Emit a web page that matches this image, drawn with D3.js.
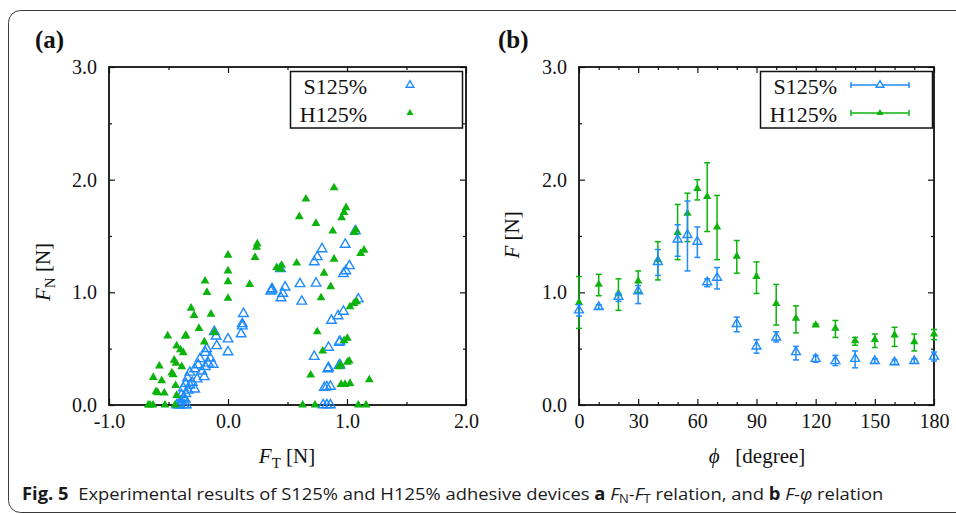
<!DOCTYPE html>
<html>
<head>
<meta charset="utf-8">
<script src="https://cdn.jsdelivr.net/npm/d3@7"></script>
<style>
  html, body { margin: 0; padding: 0; background: #fff; }
  svg { display: block; }
  text { white-space: pre; }
</style>
</head>
<body>
<div id="fig"></div>
<script>
// ---- panel (a): F_N vs F_T scatter ----
const sFt = [0.13, 0.12, 0.12, 0.11, -0.115, -0.10, 0.0, 0.0, -0.095, -0.18, -0.19, -0.15, -0.235, -0.165, -0.125,
  -0.19, -0.25, -0.28, -0.32, -0.20, -0.26, -0.34, -0.355, -0.32, -0.375, -0.335, -0.355, -0.39, -0.37, -0.40,
  -0.43, -0.40, -0.37, -0.35, -0.41, -0.30, -0.28, -0.36, -0.22,
  0.367, 0.36, 0.37, 0.44, 0.48, 0.46, 0.445, 0.62, 0.605, 0.74,
  1.07, 0.985, 0.79, 0.75, 0.725, 1.02, 0.99, 0.97, 1.095, 0.97, 0.925, 0.87, 0.94, 0.935, 0.845, 0.725,
  0.94, 0.935, 0.845, 0.84, 0.86, 0.83, 0.81, 0.80, 0.83, 0.86];
const sFn = [0.81, 0.72, 0.70, 0.63, 0.65, 0.61, 0.585, 0.47, 0.525, 0.50, 0.465, 0.415, 0.41, 0.37, 0.36,
  0.34, 0.355, 0.32, 0.29, 0.25, 0.23, 0.24, 0.19, 0.175, 0.15, 0.13, 0.10, 0.09, 0.06, 0.03,
  0.0, 0.0, 0.0, 0.0, 0.0, 0.20, 0.14, 0.05, 0.30,
  1.02, 1.01, 1.03, 1.21, 1.045, 0.99, 0.95, 0.92, 1.075, 1.08,
  1.545, 1.425, 1.385, 1.315, 1.27, 1.235, 1.19, 1.165, 0.94, 0.83, 0.79, 0.75, 0.565, 0.555, 0.51, 0.43,
  0.355, 0.35, 0.33, 0.32, 0.165, 0.16, 0.155, 0.0, 0.0, 0.0];

const hFt = [0.0, 0.246, 0.24, 0.227, 0.0, 0.0, -0.193, -0.177, 0.182, 0.0, -0.31, -0.285, -0.143, -0.244, -0.354,
  -0.36, -0.507, -0.115, -0.199, -0.431, -0.40, -0.376, -0.452, -0.437, -0.389, -0.577, -0.628, -0.472, -0.46,
  -0.557, -0.44, -0.605, -0.591, -0.535, -0.431, -0.67, -0.63, -0.53, -0.655, -0.445,
  0.409, 0.451, 0.44, 0.577,
  0.891, 0.655, 0.599, 0.739, 0.992, 0.975, 0.955, 0.88, 1.076, 1.061, 1.143, 1.115, 0.891, 0.807, 0.863,
  0.782, 1.081, 1.059, 1.025, 0.75, 1.003, 0.975, 0.796, 1.019, 1.003, 0.947, 0.935, 0.695, 1.187, 1.025,
  0.983, 0.95, 0.627, 0.731, 1.095, 1.16];
const hFn = [1.33, 1.43, 1.40, 1.31, 1.19, 1.095, 1.10, 1.0, 1.07, 0.947, 0.86, 0.795, 0.807, 0.68, 0.618,
  0.61, 0.613, 0.645, 0.56, 0.525, 0.49, 0.464, 0.398, 0.37, 0.34, 0.346, 0.245, 0.285, 0.268,
  0.216, 0.173, 0.118, 0.109, 0.106, 0.085, 0.0, 0.0, 0.0, 0.0, 0.0,
  1.22, 1.24, 1.205, 1.26,
  1.928, 1.828, 1.671, 1.612, 1.751, 1.71, 1.662, 1.544, 1.553, 1.532, 1.375, 1.346, 1.295, 1.171, 1.05,
  0.952, 0.917, 0.902, 0.872, 0.65, 0.592, 0.571, 0.479, 0.39, 0.379, 0.355, 0.34, 0.266, 0.224, 0.192,
  0.183, 0.183, 0.0, 0.0, 0.0, 0.0];

// ---- panel (b): F vs phi with error bars ----
const phi   = [0, 10, 20, 30, 40, 50, 55, 60, 65, 70, 80, 90, 100, 110, 120, 130, 140, 150, 160, 170, 180];
const sMean = [0.84, 0.87, 0.96, 1.01, 1.27, 1.47, 1.51, 1.45, 1.09, 1.13, 0.72, 0.52, 0.60, 0.47, 0.41, 0.39, 0.41, 0.39, 0.38, 0.39, 0.43];
const sLo   = [0.79, 0.85, 0.92, 0.90, 1.15, 1.32, 1.19, 1.31, 1.05, 1.03, 0.65, 0.46, 0.56, 0.40, 0.38, 0.35, 0.33, 0.37, 0.36, 0.37, 0.39];
const sHi   = [0.89, 0.89, 0.99, 1.06, 1.38, 1.60, 1.81, 1.58, 1.12, 1.22, 0.78, 0.58, 0.65, 0.52, 0.44, 0.44, 0.48, 0.41, 0.40, 0.41, 0.47];
const hMean = [0.91, 1.07, 0.99, 1.10, 1.29, 1.53, 1.70, 1.92, 1.85, 1.58, 1.32, 1.14, 0.90, 0.77, 0.71, 0.68, 0.57, 0.58, 0.62, 0.56, 0.63];
const hLo   = [0.68, 0.97, 0.84, 1.00, 1.11, 1.29, 1.45, 1.82, 1.54, 1.29, 1.17, 0.99, 0.71, 0.64, 0.70, 0.60, 0.53, 0.51, 0.52, 0.48, 0.58];
const hHi   = [1.14, 1.16, 1.12, 1.19, 1.45, 1.78, 1.88, 2.00, 2.15, 1.86, 1.46, 1.27, 1.07, 0.88, 0.72, 0.75, 0.60, 0.63, 0.69, 0.63, 0.67];

const seriesNames = ["S125%", "H125%"];
const yTicks = [0, 1, 2, 3];
const xTicksA = [-1, 0, 1, 2];
const xTicksB = [0, 30, 60, 90, 120, 150, 180];

const blue = "#1f8bff", green = "#0db30d";
const serif = "'Liberation Serif', 'Times New Roman', serif";

const W = 956, H = 514;
const svg = d3.select("#fig").append("svg")
  .attr("width", W).attr("height", H)
  .attr("viewBox", `0 0 ${W} ${H}`);

// outer rounded frame
svg.append("rect")
  .attr("x", 8.5).attr("y", 10.5)
  .attr("width", 1000).attr("height", 502)
  .attr("rx", 12)
  .attr("fill", "none").attr("stroke", "#3a3a3a").attr("stroke-width", 1);

// scales
const xA = d3.scaleLinear().domain([-1, 2]).range([109, 466]);
const xB = d3.scaleLinear().domain([0, 180]).range([579, 934]);
const yS = d3.scaleLinear().domain([0, 3]).range([405, 67]);

// plain hyphen for negatives, like the original
const fmt1 = v => d3.format(".1f")(v).replace("\u2212", "-");

// draws the box, inward ticks on all four sides, labels
function frame(x, xMajor, xMinor, xFmt) {
  const g = svg.append("g");
  const [x0, x1] = x.range(), [y0, y1] = yS.range();
  const fnt = sel => sel.selectAll("text")
    .attr("font-family", serif).attr("font-size", 20).attr("fill", "#111");

  // bottom with labels
  g.append("g").attr("transform", `translate(0,${y0})`)
    .call(d3.axisBottom(x).tickValues(xMajor).tickSizeInner(-6).tickSizeOuter(0).tickPadding(9).tickFormat(xFmt))
    .call(fnt);
  g.append("g").attr("transform", `translate(0,${y0})`)
    .call(d3.axisBottom(x).tickValues(xMinor).tickSizeInner(-3).tickSizeOuter(0).tickFormat(""));
  // top mirror
  g.append("g").attr("transform", `translate(0,${y1})`)
    .call(d3.axisTop(x).tickValues(xMajor).tickSizeInner(-6).tickSizeOuter(0).tickFormat(""));
  g.append("g").attr("transform", `translate(0,${y1})`)
    .call(d3.axisTop(x).tickValues(xMinor).tickSizeInner(-3).tickSizeOuter(0).tickFormat(""));
  // left with labels
  g.append("g").attr("transform", `translate(${x0},0)`)
    .call(d3.axisLeft(yS).tickValues(yTicks).tickSizeInner(-6).tickSizeOuter(0).tickPadding(12).tickFormat(fmt1))
    .call(fnt);
  g.append("g").attr("transform", `translate(${x0},0)`)
    .call(d3.axisLeft(yS).tickValues([0.5, 1.5, 2.5]).tickSizeInner(-3).tickSizeOuter(0).tickFormat(""));
  // right mirror
  g.append("g").attr("transform", `translate(${x1},0)`)
    .call(d3.axisRight(yS).tickValues(yTicks).tickSizeInner(-6).tickSizeOuter(0).tickFormat(""));
  g.append("g").attr("transform", `translate(${x1},0)`)
    .call(d3.axisRight(yS).tickValues([0.5, 1.5, 2.5]).tickSizeInner(-3).tickSizeOuter(0).tickFormat(""));

  g.selectAll(".domain").remove();
  g.selectAll(".tick line").attr("stroke", "#111").attr("stroke-width", 1.2);
  g.append("rect")
    .attr("x", x0).attr("y", y1).attr("width", x1 - x0).attr("height", y0 - y1)
    .attr("fill", "none").attr("stroke", "#111").attr("stroke-width", 1.8);
  return g;
}

frame(xA, xTicksA, [-0.5, 0.5, 1.5], fmt1);
frame(xB, xTicksB, d3.range(10, 180, 10).filter(v => v % 30), d3.format("d"));

const tri = s => d3.symbol().type(d3.symbolTriangle).size(s)();

// panel (a) points
const sPts = sFt.map((v, i) => [v, sFn[i]]);
const hPts = hFt.map((v, i) => [v, hFn[i]]);

svg.append("g").selectAll("path").data(sPts).join("path")
  .attr("d", tri(40))
  .attr("transform", d => `translate(${xA(d[0])},${yS(d[1])})`)
  .attr("fill", "none").attr("stroke", blue).attr("stroke-width", 1.4);

svg.append("g").selectAll("path").data(hPts).join("path")
  .attr("d", tri(34))
  .attr("transform", d => `translate(${xA(d[0])},${yS(d[1])})`)
  .attr("fill", green);

// panel (b) error bars
function errSeries(mean, lo, hi, color, filled) {
  const rows = phi.map((p, i) => ({ p, m: mean[i], lo: lo[i], hi: hi[i] }));
  const g = svg.append("g").attr("stroke", color).attr("stroke-width", 1.5);
  g.selectAll("line.v").data(rows).join("line").attr("class", "v")
    .attr("x1", d => xB(d.p)).attr("x2", d => xB(d.p))
    .attr("y1", d => yS(d.lo)).attr("y2", d => yS(d.hi));
  ["lo", "hi"].forEach(k => {
    g.selectAll("line." + k).data(rows).join("line").attr("class", k)
      .attr("x1", d => xB(d.p) - 3).attr("x2", d => xB(d.p) + 3)
      .attr("y1", d => yS(d[k])).attr("y2", d => yS(d[k]));
  });
  g.selectAll("path").data(rows).join("path")
    .attr("d", tri(filled ? 30 : 34))
    .attr("transform", d => `translate(${xB(d.p)},${yS(d.m)})`)
    .attr("fill", filled ? color : "none")
    .attr("stroke", filled ? "none" : color)
    .attr("stroke-width", 1.4);
}
errSeries(hMean, hLo, hHi, green, true);
errSeries(sMean, sLo, sHi, blue, false);

// legends
function legend(x0, x1, textRight, markerX, lineSpan) {
  const g = svg.append("g");
  g.append("rect").attr("x", x0).attr("y", 71.5).attr("width", x1 - x0).attr("height", 56.5)
    .attr("fill", "#fff").attr("stroke", "#111").attr("stroke-width", 1.5);
  const rows = [{ n: seriesNames[0], c: blue, y: 85, f: false }, { n: seriesNames[1], c: green, y: 113, f: true }];
  rows.forEach(r => {
    g.append("text").attr("x", textRight).attr("y", r.y + 9)
      .attr("text-anchor", "end").attr("font-family", serif).attr("font-size", 22).attr("fill", "#111")
      .text(r.n);
    if (lineSpan) {
      g.append("line").attr("x1", lineSpan[0]).attr("x2", lineSpan[1]).attr("y1", r.y).attr("y2", r.y)
        .attr("stroke", r.c).attr("stroke-width", 1.5);
      lineSpan.forEach(lx => g.append("line").attr("x1", lx).attr("x2", lx).attr("y1", r.y - 3).attr("y2", r.y + 3)
        .attr("stroke", r.c).attr("stroke-width", 1.5));
    }
    g.append("path").attr("d", tri(r.f ? 22 : 26))
      .attr("transform", `translate(${markerX},${r.y})`)
      .attr("fill", r.f ? r.c : "#fff").attr("stroke", r.f ? "none" : r.c).attr("stroke-width", 1.4);
  });
}
legend(290.5, 462.5, 367, 410, null);
legend(760.5, 932.5, 837, 880, [851, 909]);

// panel labels
[["(a)", 35], ["(b)", 498]].forEach(([t, x]) => {
  svg.append("text").attr("x", x).attr("y", 48)
    .attr("font-family", serif).attr("font-weight", "bold").attr("font-size", 25).attr("fill", "#111")
    .text(t);
});

// axis titles
function title(x, y, rot, parts) {
  const t = svg.append("text")
    .attr("transform", `translate(${x},${y})` + (rot ? " rotate(-90)" : ""))
    .attr("text-anchor", "middle").attr("font-family", serif).attr("font-size", 21).attr("fill", "#111");
  parts.forEach(p => {
    const s = t.append("tspan").text(p.t);
    if (p.i) s.attr("font-style", "italic");
    if (p.sub) s.attr("font-size", 15).attr("dy", 5);
    if (p.up) s.attr("dy", -5);
  });
}
title(287, 463, false, [{ t: "F", i: true }, { t: "T", sub: true }, { t: " [N]", up: true }]);
title(50, 272, true, [{ t: "F", i: true }, { t: "N", sub: true }, { t: " [N]", up: true }]);
title(757, 463, false, [{ t: "ϕ", i: true }, { t: "   [degree]" }]);
title(519, 235, true, [{ t: "F", i: true }, { t: " [N]" }]);

// caption
const cap = svg.append("text").attr("x", 22).attr("y", 500)
  .attr("font-family", "'Open Sans', 'Noto Sans', sans-serif").attr("font-size", 17).attr("fill", "#1a1a1a");
const capParts = [
  { t: "Fig. 5", b: true }, { t: "  Experimental results of S125% and H125% adhesive devices " },
  { t: "a", b: true }, { t: " " }, { t: "F", i: true }, { t: "N", sub: true }, { t: "-", back: true }, { t: "F", i: true },
  { t: "T", sub: true }, { t: " relation, and ", back: true }, { t: "b", b: true }, { t: " " },
  { t: "F", i: true }, { t: "-" }, { t: "φ", i: true }, { t: " relation" }
];
capParts.forEach(p => {
  const s = cap.append("tspan").text(p.t);
  if (p.b) s.attr("font-weight", "bold");
  if (p.i) s.attr("font-style", "italic");
  if (p.sub) s.attr("font-size", 12).attr("dy", 3);
  if (p.back) s.attr("dy", -3);
});
const capW = cap.node().getComputedTextLength();
cap.attr("transform", `translate(22,0) scale(${862 / capW},1) translate(-22,0)`);
</script>
</body>
</html>
